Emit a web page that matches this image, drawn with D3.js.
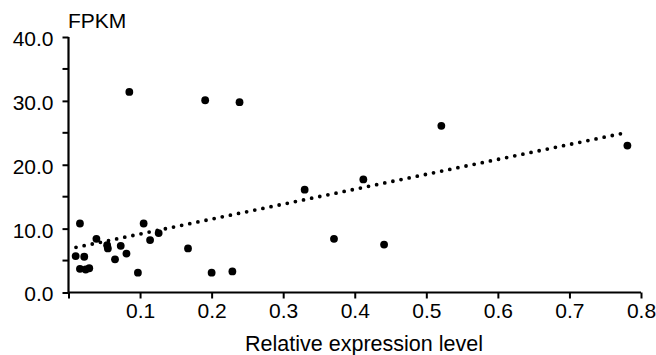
<!DOCTYPE html>
<html>
<head>
<meta charset="utf-8">
<script src="https://cdn.jsdelivr.net/npm/d3@7"></script>
<style>
body { margin: 0; background: #fff; }
svg text { font-family: "Liberation Sans", Arial, sans-serif; fill: #000; }
</style>
</head>
<body>
<svg id="chart" width="656" height="355"></svg>
<script>
// relative expression level (x) vs FPKM (y)
var relExpr = [0.085, 0.191, 0.239, 0.521, 0.781, 0.412, 0.330, 0.371, 0.441,
    0.200, 0.229, 0.167, 0.105, 0.114, 0.126, 0.097, 0.016, 0.010, 0.022,
    0.016, 0.024, 0.029, 0.039, 0.054, 0.055, 0.073, 0.065, 0.081];
var fpkm = [31.4, 30.1, 29.8, 26.1, 23.0, 17.7, 16.1, 8.4, 7.5,
    3.1, 3.3, 6.9, 10.8, 8.2, 9.3, 3.1, 10.8, 5.7, 5.6,
    3.7, 3.6, 3.8, 8.4, 7.4, 6.9, 7.3, 5.2, 6.1];

// linear trend line
var trendX = [0.0105, 0.779];
var trendSlope = 23.37;
var trendIntercept = 6.82;

var xTicks = [0, 0.1, 0.2, 0.3, 0.4, 0.5, 0.6, 0.7, 0.8];
var yTicks = [0, 10, 20, 30, 40];
var yMinor = [5, 15, 25, 35];

var svg = d3.select("#chart");

var x = d3.scaleLinear().domain([0, 0.8]).range([68.5, 641]);
var y = d3.scaleLinear().domain([0, 40]).range([292.5, 37]);

// x axis
var xAxis = svg.append("g")
    .attr("transform", "translate(0," + y(0) + ")")
    .call(d3.axisBottom(x).tickValues(xTicks).tickSize(6)
        .tickFormat(function (d) { return d === 0 ? "" : d3.format(".1f")(d); }));
xAxis.attr("font-size", 21).attr("font-family", null);
xAxis.select(".domain").attr("stroke", "#000").attr("stroke-width", 2.2)
    .attr("d", "M" + x(0) + ",0H" + x(0.8));
xAxis.selectAll(".tick line").attr("stroke", "#000").attr("stroke-width", 2);
xAxis.selectAll(".tick text")
    .attr("y", 11).attr("dy", "0.71em").attr("fill", "#000");

// y axis
var yAxis = svg.append("g")
    .attr("transform", "translate(" + x(0) + ",0)")
    .call(d3.axisLeft(y).tickValues(yTicks).tickSize(6).tickFormat(d3.format(".1f")));
yAxis.attr("font-size", 21).attr("font-family", null);
yAxis.select(".domain").attr("stroke", "#000").attr("stroke-width", 2.2)
    .attr("d", "M0," + y(40) + "V" + y(0));
yAxis.selectAll(".tick line").attr("stroke", "#000").attr("stroke-width", 2);
yAxis.selectAll(".tick text")
    .attr("x", -15).attr("dy", "0.4em").attr("fill", "#000");

svg.append("g").selectAll("line")
    .data(yMinor)
    .enter().append("line")
    .attr("x1", x(0) - 6).attr("x2", x(0))
    .attr("y1", function (d) { return y(d); })
    .attr("y2", function (d) { return y(d); })
    .attr("stroke", "#000").attr("stroke-width", 2);

// titles
svg.append("text")
    .attr("x", 68).attr("y", 28)
    .attr("font-size", 21)
    .text("FPKM");
svg.append("text")
    .attr("x", 364).attr("y", 351)
    .attr("text-anchor", "middle")
    .attr("font-size", 21.5)
    .text("Relative expression level");

// trend line (dotted)
var trendLine = d3.line()
    .x(function (d) { return x(d); })
    .y(function (d) { return y(trendIntercept + trendSlope * d); });
svg.append("path")
    .attr("d", trendLine(trendX))
    .attr("fill", "none")
    .attr("stroke", "#000")
    .attr("stroke-width", 3.8)
    .attr("stroke-linecap", "round")
    .attr("stroke-dasharray", "0 8.3");

// points
svg.append("g").selectAll("circle")
    .data(relExpr)
    .enter().append("circle")
    .attr("cx", function (d) { return x(d); })
    .attr("cy", function (d, i) { return y(fpkm[i]); })
    .attr("r", 3.9)
    .attr("fill", "#000");
</script>
</body>
</html>
